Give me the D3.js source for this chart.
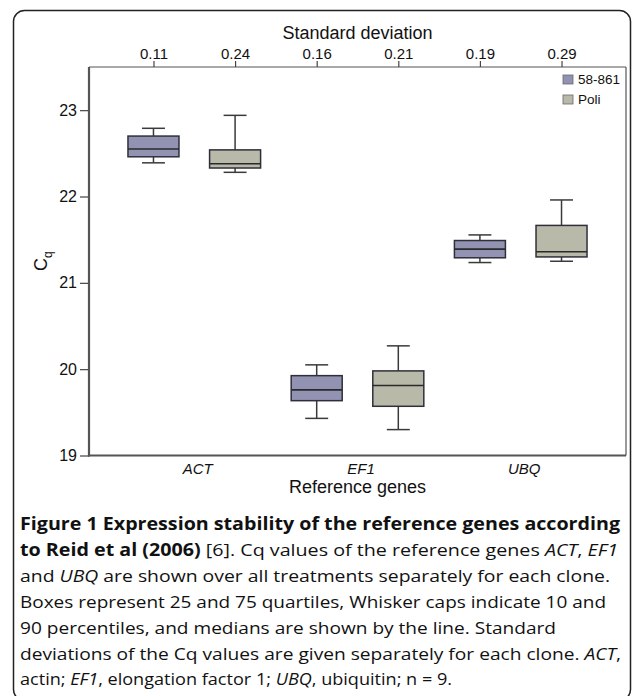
<!DOCTYPE html>
<html><head><meta charset="utf-8">
<script src="https://cdn.jsdelivr.net/npm/d3@7"></script>
<style>
body{margin:0;background:#fff;}
svg{display:block;}
</style></head>
<body>
<svg id="c" width="633" height="696"></svg>
<script>
// ---- data ----
const genes = ["ACT", "EF1", "UBQ"];
const clones = ["58-861", "Poli"];
// [p10, q1, median, q3, p90]
const act58 = [22.39, 22.46, 22.55, 22.70, 22.79];
const actPoli = [22.28, 22.33, 22.38, 22.54, 22.94];
const ef158 = [19.43, 19.635, 19.76, 19.925, 20.05];
const ef1Poli = [19.30, 19.57, 19.81, 19.98, 20.27];
const ubq58 = [21.235, 21.29, 21.39, 21.49, 21.555];
const ubqPoli = [21.25, 21.30, 21.36, 21.665, 21.96];
const sdLabels = ["0.11", "0.24", "0.16", "0.21", "0.19", "0.29"];
const yTicks = [19, 20, 21, 22, 23];

const series = [
  {gene: "ACT", clone: "58-861", v: act58},
  {gene: "ACT", clone: "Poli", v: actPoli},
  {gene: "EF1", clone: "58-861", v: ef158},
  {gene: "EF1", clone: "Poli", v: ef1Poli},
  {gene: "UBQ", clone: "58-861", v: ubq58},
  {gene: "UBQ", clone: "Poli", v: ubqPoli}
];

const colors = {"58-861": "#9293b3", "Poli": "#b9b9aa"};
const svg = d3.select("#c");
const L = 89, R = 626, T = 67, B = 455.5;
const axisFont = "'Liberation Sans', Arial, sans-serif";

// outer frame
svg.append("rect").attr("x", 13.5).attr("y", 10.5).attr("width", 617).attr("height", 690)
  .attr("rx", 11).attr("fill", "none").attr("stroke", "#222").attr("stroke-width", 1.5);

const x = d3.scalePoint().domain(genes).range([L, R]).padding(0.645);
const step = x.step();
const xc = d3.scaleBand().domain(clones).range([-step / 2, step / 2]);
const y = d3.scaleLinear().domain([19, 23.5]).range([B, T]);
const boxW = xc.bandwidth() * 0.625;
const capW = boxW * 0.45;
const cx = d => x(d.gene) + xc(d.clone) + xc.bandwidth() / 2;

// frame (top & right thin)
svg.append("line").attr("x1", L).attr("x2", R).attr("y1", T).attr("y2", T).attr("stroke", "#555").attr("stroke-width", 1.2);
svg.append("line").attr("x1", R).attr("x2", R).attr("y1", T).attr("y2", B).attr("stroke", "#555").attr("stroke-width", 1.2);

// y axis
const yAxis = svg.append("g").attr("transform", `translate(${L},0)`)
  .call(d3.axisLeft(y).tickValues(yTicks).tickSize(9).tickPadding(3).tickFormat(d3.format("d")));
yAxis.select(".domain").remove();
yAxis.selectAll(".tick line").attr("stroke", "#444").attr("stroke-width", 1.2);
yAxis.selectAll("text").attr("font-family", axisFont).attr("font-size", 16).attr("fill", "#111");
svg.append("line").attr("x1", L).attr("x2", L).attr("y1", T).attr("y2", B + 1).attr("stroke", "#555").attr("stroke-width", 2.2);

// bottom axis
const xAxis = svg.append("g").attr("transform", `translate(0,${B})`)
  .call(d3.axisBottom(x).tickSize(0).tickPadding(8));
xAxis.select(".domain").remove();
xAxis.selectAll("text").attr("font-family", axisFont).attr("font-size", 15).attr("font-style", "italic").attr("fill", "#111")
  .attr("dx", 3);
svg.append("line").attr("x1", L - 1).attr("x2", R).attr("y1", B).attr("y2", B).attr("stroke", "#555").attr("stroke-width", 2.2);

// top axis: standard deviations at each box
const keys = series.map(d => d.gene + "|" + d.clone);
const topScale = d3.scaleOrdinal().domain(keys).range(series.map(cx));
const sdMap = new Map(keys.map((k, i) => [k, sdLabels[i]]));
const topAxis = svg.append("g").attr("transform", `translate(0,${T})`)
  .call(d3.axisTop(topScale).tickSize(6).tickPadding(2).tickFormat(k => sdMap.get(k)));
topAxis.select(".domain").remove();
topAxis.selectAll(".tick line").attr("stroke", "#444").attr("stroke-width", 1.2);
topAxis.selectAll("text").attr("font-family", axisFont).attr("font-size", 15).attr("fill", "#111");

// axis titles
svg.append("text").attr("x", (L + R) / 2).attr("y", 39).attr("text-anchor", "middle")
  .attr("font-family", axisFont).attr("font-size", 18).attr("fill", "#111").text("Standard deviation");
svg.append("text").attr("x", (L + R) / 2).attr("y", 493).attr("text-anchor", "middle")
  .attr("font-family", axisFont).attr("font-size", 18).attr("fill", "#111").text("Reference genes");
const cq = svg.append("text").attr("transform", `translate(47,${(T + B) / 2}) rotate(-90)`)
  .attr("text-anchor", "middle").attr("font-family", axisFont).attr("font-size", 18).attr("fill", "#111");
cq.append("tspan").text("C");
cq.append("tspan").attr("font-size", 12).attr("dy", 5).text("q");

// boxes
const g = svg.append("g");
const bx = g.selectAll("g.box").data(series).join("g").attr("class", "box");
const stroke = "#3a3a3a";
bx.append("line").attr("x1", cx).attr("x2", cx).attr("y1", d => y(d.v[4])).attr("y2", d => y(d.v[3]))
  .attr("stroke", stroke).attr("stroke-width", 1.5);
bx.append("line").attr("x1", cx).attr("x2", cx).attr("y1", d => y(d.v[1])).attr("y2", d => y(d.v[0]))
  .attr("stroke", stroke).attr("stroke-width", 1.5);
bx.append("line").attr("x1", d => cx(d) - capW / 2).attr("x2", d => cx(d) + capW / 2)
  .attr("y1", d => y(d.v[4])).attr("y2", d => y(d.v[4])).attr("stroke", stroke).attr("stroke-width", 1.5);
bx.append("line").attr("x1", d => cx(d) - capW / 2).attr("x2", d => cx(d) + capW / 2)
  .attr("y1", d => y(d.v[0])).attr("y2", d => y(d.v[0])).attr("stroke", stroke).attr("stroke-width", 1.5);
bx.append("rect").attr("x", d => cx(d) - boxW / 2).attr("width", boxW)
  .attr("y", d => y(d.v[3])).attr("height", d => y(d.v[1]) - y(d.v[3]))
  .attr("fill", d => colors[d.clone]).attr("stroke", "#2f2f3a").attr("stroke-width", 1.5);
bx.append("line").attr("x1", d => cx(d) - boxW / 2).attr("x2", d => cx(d) + boxW / 2)
  .attr("y1", d => y(d.v[2])).attr("y2", d => y(d.v[2])).attr("stroke", "#2a2a2a").attr("stroke-width", 1.6);

// legend
const lg = svg.append("g").selectAll("g").data(clones).join("g")
  .attr("transform", (d, i) => `translate(563,${75 + i * 20})`);
lg.append("rect").attr("width", 10).attr("height", 9).attr("fill", d => colors[d]).attr("stroke", "#666").attr("stroke-width", 0.8);
lg.append("text").attr("x", 15).attr("y", 8.5).attr("font-family", axisFont).attr("font-size", 13.5).attr("fill", "#111").text(d => d);

// caption
const capLines = [
  [["b", "Figure 1 Expression stability of the reference genes according"]],
  [["b", "to Reid et al (2006)"], ["n", " [6]. Cq values of the reference genes "], ["i", "ACT"], ["n", ", "], ["i", "EF1"]],
  [["n", "and "], ["i", "UBQ"], ["n", " are shown over all treatments separately for each clone."]],
  [["n", "Boxes represent 25 and 75 quartiles, Whisker caps indicate 10 and"]],
  [["n", "90 percentiles, and medians are shown by the line. Standard"]],
  [["n", "deviations of the Cq values are given separately for each clone. "], ["i", "ACT"], ["n", ","]],
  [["n", "actin; "], ["i", "EF1"], ["n", ", elongation factor 1; "], ["i", "UBQ"], ["n", ", ubiquitin; n = 9."]]
];
const capWidths = [600, 598, 590, 586, 536, 601, 432];
const cap = svg.append("g").attr("font-family", "'Open Sans', sans-serif").attr("fill", "#111");
const capTexts = cap.selectAll("text").data(capLines).join("text")
  .attr("x", 20).attr("y", (d, i) => 530 + i * 25.9).attr("font-size", 17)
  .attr("textLength", (d, i) => capWidths[i]).attr("lengthAdjust", "spacingAndGlyphs");
capTexts.selectAll("tspan").data(d => d).join("tspan")
  .attr("font-weight", d => d[0] === "b" ? "bold" : null)
  .attr("font-style", d => d[0] === "i" ? "italic" : null)
  .text(d => d[1]);
</script>
</body></html>
